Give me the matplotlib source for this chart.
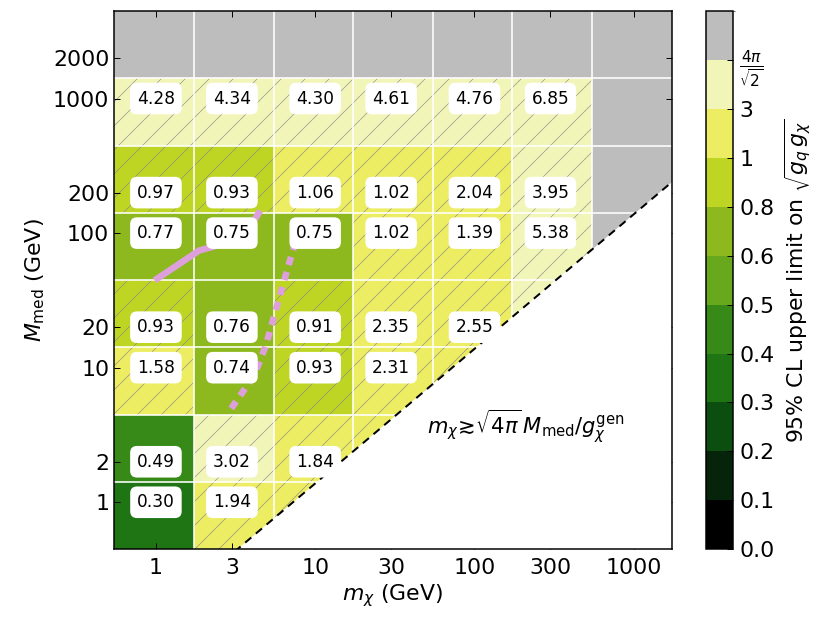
import numpy as np
import matplotlib
matplotlib.use('Agg')
import matplotlib.pyplot as plt
from matplotlib.colors import ListedColormap, BoundaryNorm
from matplotlib.patches import Rectangle
from matplotlib.ticker import NullLocator

# grid points (GeV)
m_chi = [1, 3, 10, 30, 100, 300, 1000]
m_med = [1, 2, 10, 20, 100, 200, 1000, 2000]
nan = np.nan

# 95% CL upper limit on sqrt(gq*gchi); rows = m_med (bottom -> top), cols = m_chi
limits = np.array([
    [0.30, 1.94, 2.10, nan, nan, nan, nan],
    [0.49, 3.02, 1.84, 2.20, nan, nan, nan],
    [1.58, 0.74, 0.93, 2.31, 2.40, nan, nan],
    [0.93, 0.76, 0.91, 2.35, 2.55, 5.00, nan],
    [0.77, 0.75, 0.75, 1.02, 1.39, 5.38, nan],
    [0.97, 0.93, 1.06, 1.02, 2.04, 3.95, nan],
    [4.28, 4.34, 4.30, 4.61, 4.76, 6.85, nan],
    [nan, nan, nan, nan, nan, nan, nan],
])

# pink contours
solid_x = [0.98, 1.87, 2.32, 3.6, 4.2, 4.52]
solid_y = [44.5, 74.3, 79.6, 101, 128, 147]
dashed_x = [2.97, 4.14, 4.90, 5.53, 6.39, 7.39]
dashed_y = [4.98, 8.75, 14.6, 24.4, 44.5, 80.7]

bounds = [0, 0.1, 0.2, 0.3, 0.4, 0.5, 0.6, 0.8, 1, 3, 4*np.pi/np.sqrt(2), 4*np.pi]
bound_labels = ['0.0', '0.1', '0.2', '0.3', '0.4', '0.5', '0.6', '0.8', '1', '3',
                r'$\frac{4\pi}{\sqrt{2}}$']
colors = ['#000000', '#06240a', '#0c4e0f', '#1f7514', '#378a18', '#67a81c',
          '#8db81e', '#bfd523', '#eced62', '#f2f5b8', '#bdbdbd']
ratio = 7.25  # m_chi / M_med on the boundary

plt.rcParams['hatch.linewidth'] = 0.6

def edges(c):
    c = np.array(c, dtype=float)
    inner = np.sqrt(c[:-1] * c[1:])
    return np.concatenate([[inner[0]**2 / inner[1]], inner, [inner[-1]**2 / inner[-2]]])

xe = edges(m_chi)
ye = edges(m_med)

cmap = ListedColormap(colors)
cmap.set_bad('#bdbdbd')
norm = BoundaryNorm(bounds, cmap.N)

fig = plt.figure(figsize=(831/72, 632/72), dpi=72)
ax = fig.add_axes([114.3/831, 1-549.3/632, 557.4/831, 538.3/632])
ax.set_xscale('log')
ax.set_yscale('log')

mesh = ax.pcolormesh(xe, ye, np.ma.masked_invalid(limits), cmap=cmap, norm=norm, zorder=1)

for i in range(len(m_med)):
    for j in range(len(m_chi)):
        v = limits[i, j]
        if np.isfinite(v) and v >= 0.8:
            ax.add_patch(Rectangle((xe[j], ye[i]), xe[j+1]-xe[j], ye[i+1]-ye[i],
                                   fill=False, hatch='/', edgecolor='#8a8a8a', lw=0, zorder=1.5))

for x in xe[1:-1]:
    ax.axvline(x, color='white', lw=1.6, zorder=2)
for y in ye[1:-1]:
    ax.axhline(y, color='white', lw=1.6, zorder=2)

xs = np.array([xe[0], xe[-1]])
ax.fill_between(xs, 1e-3, xs/ratio, color='white', lw=0, zorder=3)
ax.plot(xs, xs/ratio, color='black', lw=2, dashes=(4, 3), zorder=4)

ax.plot(solid_x, solid_y, color='plum', lw=6.5, solid_capstyle='butt', zorder=5)
ax.plot(dashed_x, dashed_y, color='plum', lw=6.5, dashes=(1.3, 1.1), zorder=5)

for i, M in enumerate(m_med):
    for j, m in enumerate(m_chi):
        v = limits[i, j]
        if np.isfinite(v) and M > m/ratio:
            ax.text(m, M, '%.2f' % v, ha='center', va='center', fontsize=17, zorder=6,
                    bbox=dict(boxstyle='round,pad=0.4', fc='white', ec='none'))

ax.text(50, 3.2, r'$m_\chi\!\gtrsim\!\sqrt{4\pi}\,M_\mathrm{med}/g_\chi^\mathrm{gen}$',
        fontsize=21, ha='left', va='baseline', zorder=6)

ax.set_xlim(xe[0], xe[-1])
ax.set_ylim(ye[0], ye[-1])
ax.set_xticks(m_chi)
ax.set_xticklabels([str(v) for v in m_chi])
ax.set_yticks(m_med)
ax.set_yticklabels([str(v) for v in m_med])
ax.xaxis.set_minor_locator(NullLocator())
ax.yaxis.set_minor_locator(NullLocator())
ax.tick_params(direction='in', top=True, right=True, length=6, width=1, labelsize=22)
ax.tick_params(axis='x', pad=9)
ax.tick_params(axis='y', pad=5)
for s in ax.spines.values():
    s.set_linewidth(1.5)
    s.set_zorder(10)
ax.set_xlabel(r'$m_\chi$ (GeV)', fontsize=22, labelpad=4)
ax.set_ylabel(r'$M_\mathrm{med}$ (GeV)', fontsize=22, labelpad=6)

cax = fig.add_axes([706/831, 1-549.3/632, 27.3/831, 538.3/632])
cb = fig.colorbar(mesh, cax=cax, ticks=bounds[:-1], spacing='uniform')
cb.set_ticklabels(bound_labels)
cb.ax.tick_params(direction='in', length=6, width=1, labelsize=22, pad=6)
cb.outline.set_linewidth(1.5)
cb.set_label(r'95% CL upper limit on $\sqrt{g_q\,g_\chi}$', fontsize=22, labelpad=8)

fig.savefig('out.png', dpi=72)
